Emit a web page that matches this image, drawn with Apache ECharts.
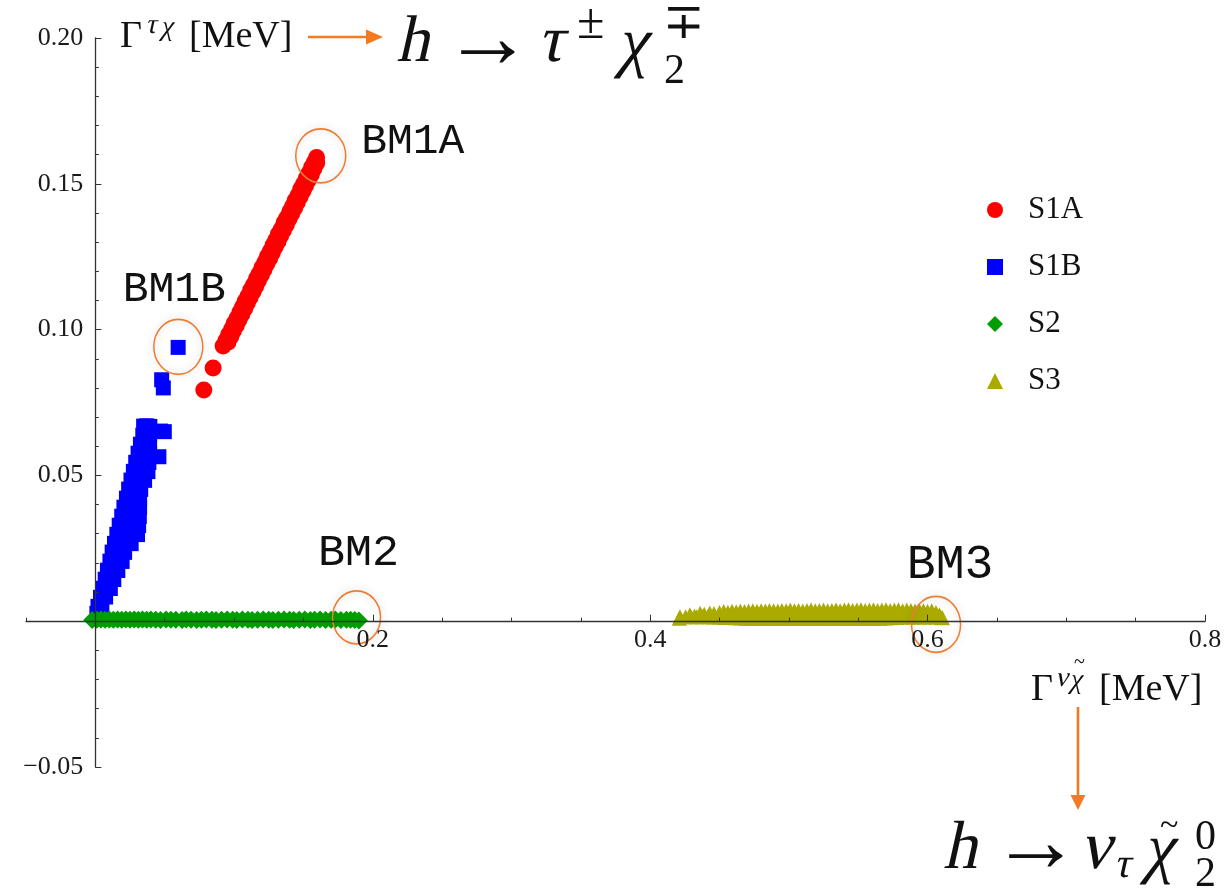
<!DOCTYPE html>
<html><head><meta charset="utf-8">
<script src="https://cdn.jsdelivr.net/npm/echarts@6/dist/echarts.min.js"></script>
<style>html,body{margin:0;padding:0;background:#fff}#c{width:1229px;height:890px}</style>
</head><body><div id="c"></div>
<script>
// ---------------- data ----------------
const seriesNames = ['S1A', 'S1B', 'S2', 'S3'];
const xRange = [-0.05, 0.8];
const yRange = [-0.05, 0.2];
const xLabelValues = [0.2, 0.4, 0.6, 0.8];

// S1A (red circles)
const s1a = [
  [0.0782,0.0793],[0.0849,0.0868],
  [0.0921,0.0944],[0.0940,0.0962],[0.0960,0.0982],[0.0981,0.1000],[0.1000,0.1021],[0.1020,0.1038],
  [0.1041,0.1059],[0.1060,0.1077],[0.1080,0.1097],[0.1101,0.1115],[0.1120,0.1136],[0.1140,0.1153],
  [0.1161,0.1174],[0.1180,0.1191],[0.1200,0.1212],[0.1221,0.1230],[0.1240,0.1251],[0.1260,0.1268],
  [0.1281,0.1289],[0.1300,0.1306],[0.1320,0.1328],[0.1341,0.1345],[0.1360,0.1366],[0.1380,0.1383],
  [0.1401,0.1404],[0.1420,0.1421],[0.1440,0.1443],[0.1461,0.1460],[0.1480,0.1481],[0.1500,0.1498],
  [0.1521,0.1519],[0.1540,0.1536],[0.1560,0.1558],[0.1580,0.1575],[0.1595,0.1590],
  [0.0956,0.0957],[0.0977,0.0976],[0.0996,0.0996],[0.1017,0.1015],[0.1036,0.1034],[0.1056,0.1053],
  [0.1077,0.1072],[0.1096,0.1091],[0.1116,0.1111],[0.1137,0.1130],[0.1156,0.1149],[0.1176,0.1168],
  [0.1197,0.1187],[0.1216,0.1206],[0.1236,0.1226],[0.1257,0.1245],[0.1276,0.1264],[0.1296,0.1283],
  [0.1317,0.1302],[0.1336,0.1322],[0.1356,0.1341],[0.1377,0.1360],[0.1396,0.1379],[0.1416,0.1398],
  [0.1437,0.1417],[0.1456,0.1437],[0.1476,0.1456],[0.1497,0.1475],[0.1516,0.1494],[0.1536,0.1513],
  [0.1557,0.1532],[0.1576,0.1552],[0.1596,0.1571]
];

// S1B (blue squares)
const s1b = [
  [0.0348,0.0669],[0.0370,0.0670],[0.0393,0.0668],
  [0.0497,0.0650],[0.0470,0.0652],
  [0.0342,0.0638],[0.0367,0.0639],[0.0391,0.0637],
  [0.0325,0.0607],[0.0357,0.0608],[0.0391,0.0606],
  [0.0308,0.0576],[0.0350,0.0577],[0.0391,0.0575],
  [0.0458,0.0564],
  [0.0291,0.0545],[0.0339,0.0546],[0.0386,0.0544],
  [0.0274,0.0514],[0.0324,0.0515],[0.0379,0.0513],
  [0.0257,0.0484],[0.0306,0.0485],[0.0355,0.0483],
  [0.0240,0.0453],[0.0285,0.0454],[0.0327,0.0452],
  [0.0224,0.0422],[0.0270,0.0423],[0.0319,0.0421],
  [0.0206,0.0391],[0.0260,0.0392],[0.0319,0.0390],
  [0.0190,0.0360],[0.0242,0.0361],[0.0280,0.0362],[0.0317,0.0359],
  [0.0172,0.0329],[0.0234,0.0330],[0.0273,0.0331],[0.0312,0.0328],
  [0.0155,0.0298],[0.0227,0.0299],[0.0266,0.0300],[0.0304,0.0297],
  [0.0138,0.0267],[0.0198,0.0268],[0.0258,0.0266],
  [0.0121,0.0237],[0.0166,0.0238],[0.0211,0.0236],
  [0.0105,0.0206],[0.0148,0.0207],[0.0193,0.0205],
  [0.0087,0.0175],[0.0126,0.0176],[0.0162,0.0174],
  [0.0071,0.0144],[0.0105,0.0145],[0.0133,0.0143],
  [0.0053,0.0113],[0.0081,0.0114],[0.0108,0.0112],
  [0.0037,0.0082],[0.0074,0.0083],
  [0.0019,0.0051],[0.0047,0.0052],
  [0.0011,0.0027],[0.0032,0.0028],
  [0.0478,0.0828],[0.0490,0.0800],[0.0597,0.0939]
];

// S2 (green diamonds)
const s2 = [
  [-0.0023,0.0004],[0.0010,0.0005],[0.0040,0.0006],[0.0070,0.0005],[0.0100,0.0006],[0.0130,0.0005],
  [0.0160,0.0006],[0.0190,0.0005],[0.0220,0.0006],[0.0250,0.0005],[0.0280,0.0006],[0.0310,0.0005],
  [0.0340,0.0006],[0.0370,0.0005],[0.0400,0.0006],[0.0435,0.0005],[0.0470,0.0004],[0.0510,0.0006],
  [0.0545,0.0005],[0.0580,0.0005],[0.0625,0.0004],[0.0655,0.0006],[0.0690,0.0005],[0.0730,0.0004],
  [0.0765,0.0005],[0.0800,0.0006],[0.0840,0.0005],[0.0870,0.0004],[0.0910,0.0005],[0.0950,0.0006],
  [0.0990,0.0005],[0.1020,0.0004],[0.1060,0.0006],[0.1100,0.0005],[0.1130,0.0004],[0.1170,0.0005],
  [0.1210,0.0006],[0.1250,0.0005],[0.1280,0.0004],[0.1320,0.0005],[0.1360,0.0006],[0.1400,0.0005],
  [0.1430,0.0004],[0.1470,0.0005],[0.1510,0.0006],[0.1550,0.0004],[0.1580,0.0005],[0.1620,0.0006],
  [0.1660,0.0004],[0.1700,0.0005],[0.1730,0.0006],[0.1770,0.0004],[0.1810,0.0005],[0.1840,0.0005],
  [0.1870,0.0004],[0.1900,0.0002]
];

// S3 (olive triangles)
const s3 = [
  [0.4210,0.0010],[0.4286,0.0022],[0.4320,0.0018],[0.4360,0.0027],[0.4390,0.0024],[0.4430,0.0028],
  [0.4460,0.0026],[0.4500,0.0030],[0.4530,0.0033],[0.4560,0.0031],[0.4590,0.0034],[0.4620,0.0032],
  [0.4650,0.0035],[0.4680,0.0033],[0.4710,0.0035],[0.4740,0.0036],[0.4770,0.0034],[0.4800,0.0036],
  [0.4830,0.0035],[0.4860,0.0037],[0.4890,0.0036],[0.4920,0.0035],[0.4950,0.0037],[0.4980,0.0036],
  [0.5010,0.0038],[0.5040,0.0036],[0.5070,0.0037],[0.5100,0.0035],[0.5130,0.0037],[0.5160,0.0038],
  [0.5190,0.0036],[0.5220,0.0037],[0.5250,0.0038],[0.5280,0.0036],[0.5310,0.0037],[0.5340,0.0038],
  [0.5370,0.0036],[0.5400,0.0038],[0.5430,0.0039],[0.5460,0.0037],[0.5490,0.0038],[0.5520,0.0039],
  [0.5550,0.0037],[0.5580,0.0038],[0.5610,0.0039],[0.5640,0.0037],[0.5670,0.0038],[0.5700,0.0039],
  [0.5730,0.0037],[0.5760,0.0038],[0.5790,0.0039],[0.5820,0.0036],[0.5850,0.0038],[0.5880,0.0037],
  [0.5910,0.0035],[0.5940,0.0037],[0.5970,0.0036],[0.6000,0.0034],[0.6030,0.0036],[0.6060,0.0030],
  [0.6085,0.0022],[0.6107,0.0012],
  [0.4215,0.0015],[0.4255,0.0015],[0.4295,0.0015],[0.4335,0.0015],[0.4375,0.0015],[0.4415,0.0015],
  [0.4455,0.0014],[0.4495,0.0014],[0.4535,0.0013],[0.4575,0.0013],[0.4615,0.0012],[0.4655,0.0011],
  [0.4695,0.0010],[0.4735,0.0010],[0.4775,0.0010],[0.4815,0.0010],[0.4855,0.0010],[0.4895,0.0010],
  [0.4935,0.0010],[0.4975,0.0010],[0.5015,0.0010],[0.5055,0.0010],[0.5095,0.0010],[0.5135,0.0010],
  [0.5175,0.0010],[0.5215,0.0010],[0.5255,0.0010],[0.5295,0.0010],[0.5335,0.0010],[0.5375,0.0010],
  [0.5415,0.0010],[0.5455,0.0010],[0.5495,0.0010],[0.5535,0.0010],[0.5575,0.0010],[0.5615,0.0010],
  [0.5655,0.0010],[0.5695,0.0011],[0.5735,0.0012],[0.5775,0.0013],[0.5815,0.0014],[0.5855,0.0014],
  [0.5895,0.0014],[0.5935,0.0014],[0.5975,0.0014],[0.6015,0.0014],[0.6055,0.0014],[0.6095,0.0014]
];

// benchmark points (names and data coordinates)
const bmNames = ['BM1A', 'BM1B', 'BM2', 'BM3'];
const bmCoords = [[0.1625,0.1596],[0.0598,0.0941],[0.1883,0.0013],[0.6061,-0.0011]];

// ---------------- styles ----------------
const serif = '"Liberation Serif","Times New Roman","DejaVu Serif",serif';
const mono = '"Liberation Mono","DejaVu Sans Mono",monospace';
const orange = '#EE7D31';
const arrowOrange = '#F47A22';
const ink = '#111';
const axisInk = '#333';
const colors = ['#FF0000', '#0000FF', '#009E00', '#AAAA00'];
const symbols = ['circle', 'rect', 'diamond', 'triangle'];
const symbolSizes = [17, 15, 18, 15];
const bmStyle = [
  {size:[50,54], offset:[92,-14], fs:43},
  {size:[49,55], offset:[-4,-57], fs:43},
  {size:[48,53], offset:[2,-64], fs:45},
  {size:[49,56], offset:[14,-59], fs:48}
];
// grid geometry (pixels)
const G = {left: 26, right: 24, top: 38, bottom: 123};
const gridW = 1229 - G.left - G.right, gridH = 890 - G.top - G.bottom;
const yAxisShift = -gridW * (0 - xRange[0]) / (xRange[1] - xRange[0]);
const xAxisShift = -gridH * (0 - yRange[0]) / (yRange[1] - yRange[0]);

function markPointFor(i) {
  const st = bmStyle[i];
  return {
    symbol: 'circle', symbolSize: st.size, silent: true, animation: false,
    itemStyle: {color: 'rgba(255,255,255,0)', borderColor: orange, borderWidth: 1.6,
      shadowBlur: 8, shadowColor: 'rgba(0,0,0,0.22)'},
    label: {show: true, position: 'inside', offset: st.offset, formatter: bmNames[i],
      fontFamily: mono, fontSize: st.fs, color: ink},
    data: [{name: bmNames[i], coord: bmCoords[i]}]
  };
}

const allData = [s1a, s1b, s2, s3];
const series = allData.map((d, i) => ({
  name: seriesNames[i], type: 'scatter', xAxisIndex: 0, yAxisIndex: 0,
  symbol: symbols[i], symbolSize: symbolSizes[i], symbolKeepAspect: true,
  itemStyle: {color: colors[i], opacity: 1},
  emphasis: {disabled: true}, silent: true,
  data: d, z: 2,
  markPoint: markPointFor(i)
}));

// italic math letters: upright serif glyphs slanted with a skew transform
function T(text, x, y, size, italic, family) {
  const el = {type: 'text', x: x, y: y, silent: true, z: 100,
    style: {text: text, fontSize: size, fontFamily: family || serif,
      fontStyle: 'normal', fill: ink, align: 'left', verticalAlign: 'middle'}};
  if (italic) { el.skewX = -0.22; }
  return el;
}
const graphics = [
  // top axis name
  T('Γ', 120, 37, 38, false), T('τ', 147, 26, 28, true), T('χ', 162, 28, 28, true),
  T('[MeV]', 189, 37, 38, false),
  // top arrow
  {type: 'line', silent: true, z: 100, shape: {x1: 308, y1: 37, x2: 369, y2: 37}, style: {stroke: arrowOrange, lineWidth: 2.6}},
  {type: 'polygon', silent: true, z: 100, shape: {points: [[366, 29.5], [383, 37], [366, 44.5]]}, style: {fill: arrowOrange}},
  // top formula
  T('h', 400, 44, 66, true), T('→', 443, 43, 90, false), T('τ', 541, 44, 66, true),
  T('±', 577, 25, 50, false), T('χ', 621, 46, 68, true), T('∓', 663, 25, 50, false), T('2', 664, 72, 42, false),
  // bottom axis name
  T('Γ', 1031, 690, 38, false), T('ν', 1057, 679, 28, true), T('χ', 1071, 681, 28, true),
  T('~', 1074, 663, 20, false), T('[MeV]', 1099, 690, 38, false),
  // bottom arrow
  {type: 'line', silent: true, z: 100, shape: {x1: 1078, y1: 707, x2: 1078, y2: 797}, style: {stroke: arrowOrange, lineWidth: 2.6}},
  {type: 'polygon', silent: true, z: 100, shape: {points: [[1070.5, 795], [1078, 810], [1085.5, 795]]}, style: {fill: arrowOrange}},
  // bottom formula
  T('h', 947, 850, 68, true), T('→', 991, 847, 90, false), T('ν', 1084, 850, 68, true),
  T('τ', 1116, 866, 42, true), T('χ', 1147, 852, 68, true), T('~', 1160, 826, 34, false),
  T('0', 1195, 838, 42, false), T('2', 1195, 875, 42, false)
];

const chart = echarts.init(document.getElementById('c'), null, {renderer: 'canvas'});
chart.setOption({
  animation: false,
  backgroundColor: '#ffffff',
  grid: {left: G.left, right: G.right, top: G.top, bottom: G.bottom, containLabel: false, outerBoundsMode: 'none'},
  legend: {
    data: seriesNames, orient: 'vertical', left: 982, top: 189,
    itemWidth: 16, itemHeight: 16, itemGap: 25, selectedMode: false, symbolKeepAspect: true,
    textStyle: {fontFamily: serif, fontSize: 31, color: ink, lineHeight: 32, padding: [0, 0, 0, 20]}
  },
  xAxis: [
    {type: 'value', min: xRange[0], max: xRange[1], interval: 0.05, z: 5, position: 'bottom', offset: xAxisShift,
      axisLine: {show: true, onZero: false, lineStyle: {color: axisInk, width: 1.3}},
      axisTick: {show: true, inside: true, length: 3.5, lineStyle: {color: axisInk}},
      axisLabel: {show: false}, splitLine: {show: false}},
    {type: 'value', min: xRange[0], max: xRange[1], interval: 0.05, z: 5, position: 'bottom', offset: xAxisShift,
      axisLine: {show: false, onZero: false},
      axisTick: {show: true, inside: true, length: 6.5, customValues: xLabelValues, lineStyle: {color: axisInk}},
      axisLabel: {show: true, customValues: xLabelValues, margin: 6,
        formatter: v => Number(v).toFixed(1), fontFamily: serif, fontSize: 26, color: '#1a1a1a'},
      splitLine: {show: false}}
  ],
  yAxis: [
    {type: 'value', min: yRange[0], max: yRange[1], interval: 0.05, z: 5, position: 'left', offset: yAxisShift,
      axisLine: {show: true, onZero: false, lineStyle: {color: axisInk, width: 1.3}},
      axisTick: {show: true, inside: true, length: 6, lineStyle: {color: axisInk}},
      minorTick: {show: true, splitNumber: 5, length: 3.5, lineStyle: {color: axisInk}},
      axisLabel: {margin: 12, fontFamily: serif, fontSize: 26, color: '#1a1a1a',
        formatter: v => Math.abs(v) < 1e-9 ? '' : (v < 0 ? '\u2212' + (-v).toFixed(2) : v.toFixed(2))},
      splitLine: {show: false}, minorSplitLine: {show: false}}
  ],
  series: series,
  graphic: graphics
});
</script></body></html>
